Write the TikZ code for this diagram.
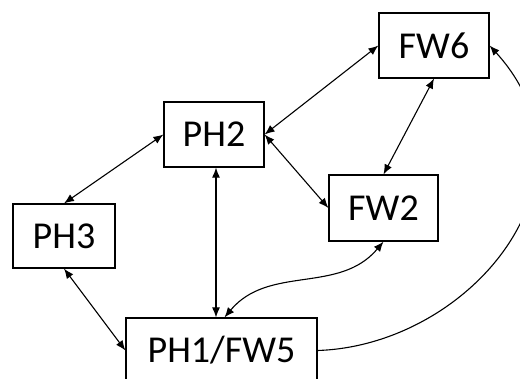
\documentclass[tikz,border=0pt]{standalone}
\usepackage{fontspec}
\setmainfont{Carlito}
\usetikzlibrary{positioning}
\usetikzlibrary{arrows.meta}

\begin{document}
\begin{tikzpicture}[x=1pt,y=-1pt]
\tikzstyle{pbox} = [draw, line width=1.2pt, minimum width=100pt, minimum height=65pt, inner sep=0pt, font=\fontsize{38}{40}\selectfont]
\tikzstyle{line} = [draw, line width=1.1pt, {Latex[length=10pt,width=8pt]}-{Latex[length=10pt,width=8pt]}]
\tikzstyle{oneway} = [draw, line width=1.1pt, -{Latex[length=10pt,width=8pt]}]

\useasboundingbox (0,0) rectangle (520,378);
\clip (0,0) rectangle (520,378);

\node [pbox, minimum width=110pt] (fw6) at (434,45.5) {FW6};
\node [pbox] (ph2) at (214,134.5) {PH2};
\node [pbox, minimum width=109pt, minimum height=66pt] (fw2) at (383.5,208) {FW2};
\node [pbox, minimum width=102pt, minimum height=64pt] (ph3) at (64,236) {PH3};
\node [pbox, minimum width=191pt] (ph1) at (221.5,350.5) {PH1/FW5};

\path [line] (ph2.west) -- (ph3.north);
\path [line] (ph2.east) -- (fw6.west);
\path [line] (ph2.east) -- (fw2.west);
\path [line] ([xshift=2pt]ph2.south) -- ([xshift=2pt]ph2.south |- ph1.north);
\path [line] (fw6.south) -- (fw2.north);
\path [line] (fw2.south) to[out=-130, in=50] ([xshift=3pt]ph1.north);
\path [line] (ph3.south) -- (ph1.west);
\path [oneway] (ph1.east) .. controls +(153,-5) and +(120,132) .. (fw6.east);
\end{tikzpicture}
\end{document}
